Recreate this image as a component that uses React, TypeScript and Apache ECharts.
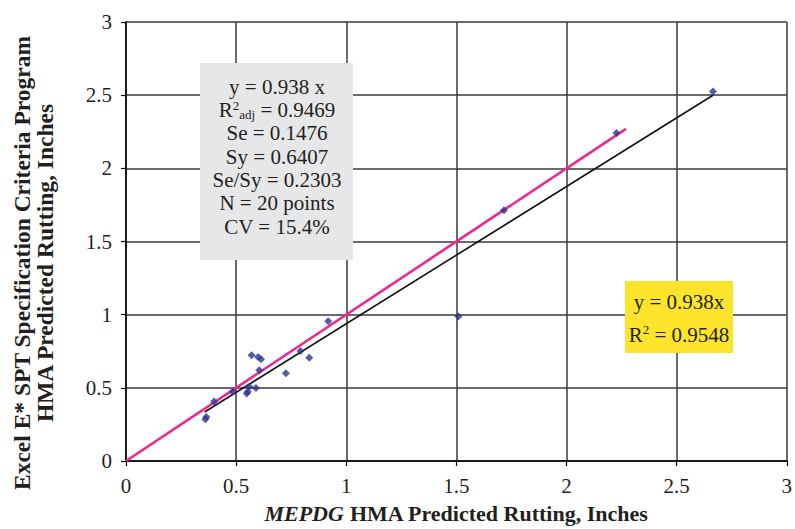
import React, { useEffect, useRef } from "react";
import * as echarts from "echarts";

const xValues = [0.36, 0.365, 0.40, 0.485, 0.548, 0.553, 0.56, 0.57, 0.59, 0.60, 0.613, 0.605, 0.726, 0.792, 0.832, 0.918, 1.509, 1.716, 2.227, 2.665];
const yValues = [0.285, 0.30, 0.406, 0.474, 0.462, 0.474, 0.508, 0.722, 0.499, 0.71, 0.695, 0.621, 0.60, 0.752, 0.706, 0.955, 0.988, 1.713, 2.241, 2.525];
const equalityEnds = [0, 2.27];
const fitSlope = 0.938;
const fitEnds = [0.357, 2.665];
const statsLines = [
  "{n|y = 0.938 x}",
  "{n|R}{sup|2}{sub|adj}{n| = 0.9469}",
  "{n|Se = 0.1476}",
  "{n|Sy = 0.6407}",
  "{n|Se/Sy = 0.2303}",
  "{n|N = 20 points}",
  "{n|CV = 15.4%}",
];
const fitLines = ["{n|y = 0.938x}", "{n|R}{sup|2}{n| = 0.9548}"];
const yTitleLines = ["Excel E* SPT Specification Criteria Program", "HMA Predicted Rutting, Inches"];

const FONT = "'Liberation Serif', 'Times New Roman', serif";
const TXT = "#231F20";

export default function App() {
  const ref = useRef<HTMLDivElement>(null);
  useEffect(() => {
    document.body.style.margin = "0";
    if (!ref.current) return;
    const chart = echarts.init(ref.current, undefined, { renderer: "svg" });
    const rich = {
      n: { fontSize: 21, fontFamily: FONT, color: TXT, lineHeight: 22 },
      sup: { fontSize: 13, fontFamily: FONT, color: TXT, verticalAlign: "top", lineHeight: 22, padding: [0, 0, 7, 0] },
      sub: { fontSize: 13, fontFamily: FONT, color: TXT, verticalAlign: "bottom", lineHeight: 22, padding: [8, 0, 0, 0] },
    };
    const statsY = [87, 110, 133, 157, 180, 203, 227];
    const fitY = [302, 335];
    const graphics: any[] = [
      { type: "rect", shape: { x: 200, y: 63, width: 153, height: 197 }, style: { fill: "#E6E7E8" }, z: 10 },
      { type: "rect", shape: { x: 625, y: 281, width: 108, height: 72 }, style: { fill: "#FCE42B" }, z: 10 },
    ];
    statsLines.forEach((t, i) => {
      graphics.push({
        type: "text",
        x: 277,
        y: statsY[i],
        z: 11,
        style: { text: t, rich, align: "center", verticalAlign: "middle", fill: TXT },
      });
    });
    fitLines.forEach((t, i) => {
      graphics.push({
        type: "text",
        x: 679,
        y: fitY[i],
        z: 11,
        style: {
          text: t,
          rich: {
            n: { ...rich.n, fontSize: 21, lineHeight: 24 },
            sup: { ...rich.sup, fontSize: 13, lineHeight: 24, padding: [0, 0, 8, 0] },
          },
          align: "center",
          verticalAlign: "middle",
          fill: TXT,
        },
      });
    });
    const yTitleX = [22, 45];
    yTitleLines.forEach((t, i) => {
      graphics.push({
        type: "text",
        x: yTitleX[i],
        y: 263,
        rotation: Math.PI / 2,
        z: 11,
        style: {
          text: t,
          fontSize: 23.5,
          fontWeight: "bold",
          fontFamily: FONT,
          fill: TXT,
          align: "center",
          verticalAlign: "middle",
        },
      });
    });

    const axisCommon = {
      type: "value",
      min: 0,
      max: 3,
      interval: 0.5,
      axisLine: { show: true, onZero: false, lineStyle: { color: "#000", width: 1.5 } },
      axisTick: { show: true, inside: false, length: 5, lineStyle: { color: "#000", width: 1.2 } },
      splitLine: { show: true, lineStyle: { color: "#3a3a3a", width: 1.5 } },
      axisLabel: { fontSize: 21, fontFamily: FONT, color: TXT, margin: 14 },
    };

    chart.setOption({
      animation: false,
      backgroundColor: "#fff",
      grid: { left: 126, right: 6, top: 22, bottom: 64, containLabel: false },
      xAxis: {
        ...axisCommon,
        name: "{i|MEPDG}{b| HMA Predicted Rutting, Inches}",
        nameLocation: "middle",
        nameGap: 41,
        nameTextStyle: {
          rich: {
            i: { fontSize: 22, fontFamily: FONT, fontWeight: "bold", fontStyle: "italic", color: TXT },
            b: { fontSize: 22, fontFamily: FONT, fontWeight: "bold", color: TXT },
          },
        },
        axisLabel: { ...axisCommon.axisLabel, margin: 14 },
      },
      yAxis: {
        ...axisCommon,
      },
      graphic: graphics,
      series: [
        {
          type: "line",
          data: fitEnds.map((x) => [x, fitSlope * x]),
          showSymbol: false,
          lineStyle: { color: "#111", width: 1.6 },
          z: 3,
        },
        {
          type: "line",
          data: equalityEnds.map((x) => [x, x]),
          showSymbol: false,
          lineStyle: { color: "#EC2A8E", width: 2.6 },
          z: 4,
        },
        {
          type: "scatter",
          data: xValues.map((x, i) => [x, yValues[i]]),
          symbol: "diamond",
          symbolSize: 8,
          itemStyle: { color: "#2E3192" },
          z: 5,
        },
      ],
    });
    return () => chart.dispose();
  }, []);
  return <div ref={ref} style={{ width: 795, height: 529 }} />;
}
